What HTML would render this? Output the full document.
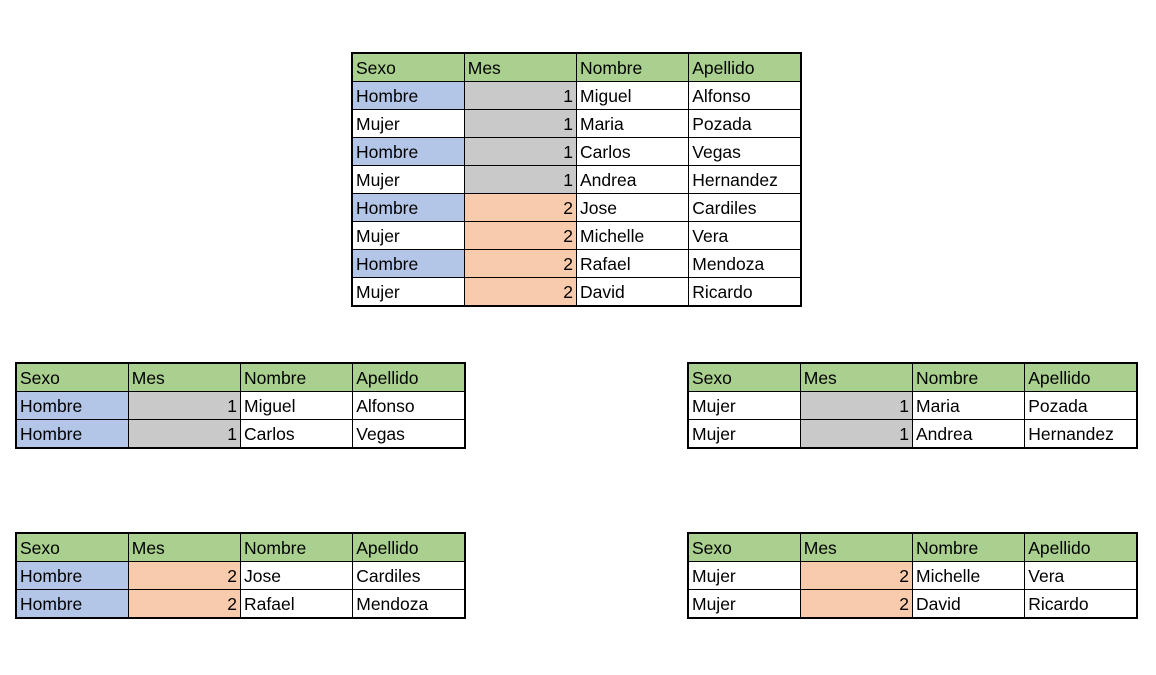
<!DOCTYPE html>
<html><head><meta charset="utf-8"><style>
body{margin:0;width:1156px;height:675px;background:#fff;position:relative;overflow:hidden;font-family:"Liberation Sans",sans-serif;}
table{position:absolute;border-collapse:collapse;border:2px solid #000;table-layout:fixed;}
td{border:1px solid #000;padding:1px 3px 0 3px;font-size:17.5px;line-height:26px;vertical-align:bottom;color:#000;white-space:nowrap;overflow:hidden;box-sizing:border-box;}
tr{height:28px}
td{height:28px;width:112px}
.h td{background:#A9D08E}
.b{background:#B4C6E7}
.g{background:#C9C9C9;text-align:right}
.o{background:#F8CBAD;text-align:right}
</style></head><body>
<table style="left:351px;top:52px;width:451px">
<tr class="h"><td>Sexo</td><td>Mes</td><td>Nombre</td><td>Apellido</td></tr>
<tr><td class="b">Hombre</td><td class="g">1</td><td>Miguel</td><td>Alfonso</td></tr>
<tr><td>Mujer</td><td class="g">1</td><td>Maria</td><td>Pozada</td></tr>
<tr><td class="b">Hombre</td><td class="g">1</td><td>Carlos</td><td>Vegas</td></tr>
<tr><td>Mujer</td><td class="g">1</td><td>Andrea</td><td>Hernandez</td></tr>
<tr><td class="b">Hombre</td><td class="o">2</td><td>Jose</td><td>Cardiles</td></tr>
<tr><td>Mujer</td><td class="o">2</td><td>Michelle</td><td>Vera</td></tr>
<tr><td class="b">Hombre</td><td class="o">2</td><td>Rafael</td><td>Mendoza</td></tr>
<tr><td>Mujer</td><td class="o">2</td><td>David</td><td>Ricardo</td></tr>
</table>
<table style="left:15px;top:362px;width:451px">
<tr class="h"><td>Sexo</td><td>Mes</td><td>Nombre</td><td>Apellido</td></tr>
<tr><td class="b">Hombre</td><td class="g">1</td><td>Miguel</td><td>Alfonso</td></tr>
<tr><td class="b">Hombre</td><td class="g">1</td><td>Carlos</td><td>Vegas</td></tr>
</table>
<table style="left:687px;top:362px;width:451px">
<tr class="h"><td>Sexo</td><td>Mes</td><td>Nombre</td><td>Apellido</td></tr>
<tr><td>Mujer</td><td class="g">1</td><td>Maria</td><td>Pozada</td></tr>
<tr><td>Mujer</td><td class="g">1</td><td>Andrea</td><td>Hernandez</td></tr>
</table>
<table style="left:15px;top:532px;width:451px">
<tr class="h"><td>Sexo</td><td>Mes</td><td>Nombre</td><td>Apellido</td></tr>
<tr><td class="b">Hombre</td><td class="o">2</td><td>Jose</td><td>Cardiles</td></tr>
<tr><td class="b">Hombre</td><td class="o">2</td><td>Rafael</td><td>Mendoza</td></tr>
</table>
<table style="left:687px;top:532px;width:451px">
<tr class="h"><td>Sexo</td><td>Mes</td><td>Nombre</td><td>Apellido</td></tr>
<tr><td>Mujer</td><td class="o">2</td><td>Michelle</td><td>Vera</td></tr>
<tr><td>Mujer</td><td class="o">2</td><td>David</td><td>Ricardo</td></tr>
</table>
</body></html>
